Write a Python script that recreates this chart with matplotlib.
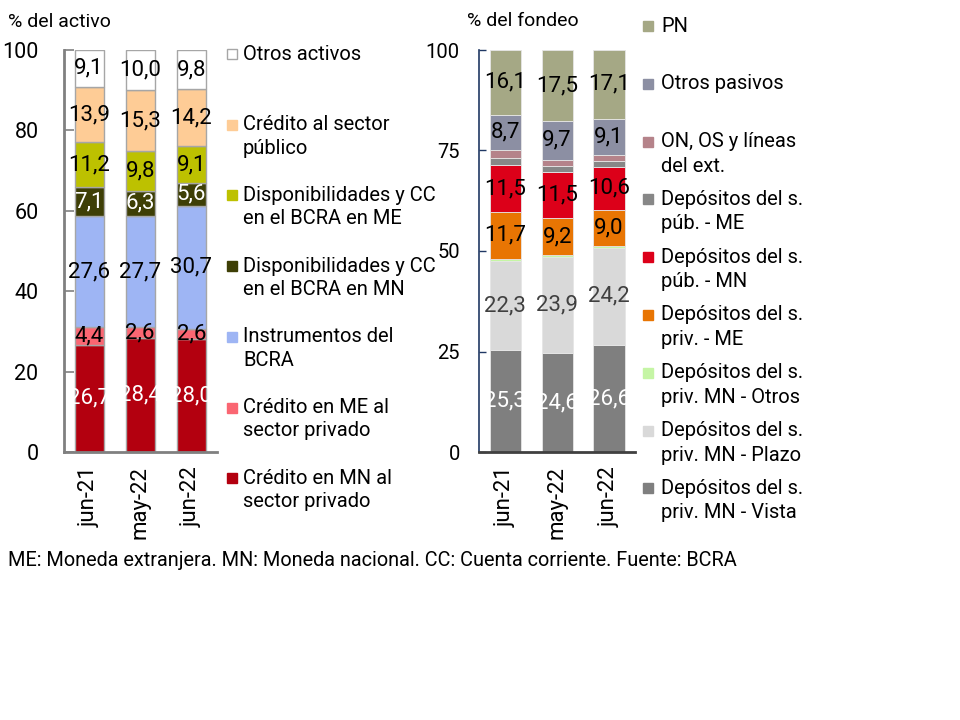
import matplotlib
matplotlib.use('Agg')
import matplotlib.pyplot as plt
from matplotlib.patches import Rectangle

plt.rcParams['font.family'] = ['Roboto', 'DejaVu Sans']

periods = ['jun-21', 'may-22', 'jun-22']

# ---- Activo (% del activo), bottom to top ----
credito_mn = [26.7, 28.4, 28.0]
credito_me = [4.4, 2.6, 2.6]
instrumentos_bcra = [27.6, 27.7, 30.7]
disp_mn = [7.1, 6.3, 5.6]
disp_me = [11.2, 9.8, 9.1]
credito_publico = [13.9, 15.3, 14.2]
otros_activos = [9.1, 10.0, 9.8]

# ---- Fondeo (% del fondeo), bottom to top ----
dep_priv_vista = [25.3, 24.6, 26.6]
dep_priv_plazo = [22.3, 23.9, 24.2]
dep_priv_otros = [0.5, 0.4, 0.5]
dep_priv_me = [11.7, 9.2, 9.0]
dep_pub_mn = [11.5, 11.5, 10.6]
dep_pub_me = [1.8, 1.6, 1.5]
on_os_lineas = [2.1, 1.5, 1.4]
otros_pasivos = [8.7, 9.7, 9.1]
pn = [16.1, 17.5, 17.1]

left_ticks = [0, 20, 40, 60, 80, 100]
right_ticks = [0, 25, 50, 75, 100]

# (values, legend label, face colour, label colour or None)
left_series = [
    (credito_mn, 'Crédito en MN al\nsector privado', '#B3000F', 'white'),
    (credito_me, 'Crédito en ME al\nsector privado', '#FA6672', 'black'),
    (instrumentos_bcra, 'Instrumentos del\nBCRA', '#9EB5F4', 'black'),
    (disp_mn, 'Disponibilidades y CC\nen el BCRA en MN', '#3E3F06', 'white'),
    (disp_me, 'Disponibilidades y CC\nen el BCRA en ME', '#BDC100', 'black'),
    (credito_publico, 'Crédito al sector\npúblico', '#FECC96', 'black'),
    (otros_activos, 'Otros activos', '#FFFFFF', 'black'),
]

right_series = [
    (dep_priv_vista, 'Depósitos del s.\npriv. MN - Vista', '#7F7F7F', 'white'),
    (dep_priv_plazo, 'Depósitos del s.\npriv. MN - Plazo', '#D9D9D9', '#404040'),
    (dep_priv_otros, 'Depósitos del s.\npriv. MN - Otros', '#C5F5A5', None),
    (dep_priv_me, 'Depósitos del s.\npriv. - ME', '#E87503', 'black'),
    (dep_pub_mn, 'Depósitos del s.\npúb. - MN', '#DC0019', 'black'),
    (dep_pub_me, 'Depósitos del s.\npúb. - ME', '#878787', None),
    (on_os_lineas, 'ON, OS y líneas\ndel ext.', '#B5838A', None),
    (otros_pasivos, 'Otros pasivos', '#8C8FA3', 'black'),
    (pn, 'PN', '#A5A885', 'black'),
]

W, H = 960, 720
fig = plt.figure(figsize=(W / 100, H / 100), dpi=100)


def fx(px):
    return px / W


def fy(py):
    return 1 - py / H


def fmt(v):
    return f'{v:.1f}'.replace('.', ',')


def draw_stack(ax, series, width, edge, lw, labsize):
    x = list(range(len(periods)))
    bottoms = [0.0] * len(periods)
    for vals, _, col, tcol in series:
        ax.bar(x, vals, width=width, bottom=bottoms, color=col,
               edgecolor=edge, linewidth=lw, zorder=2)
        if tcol is not None:
            for i, v in enumerate(vals):
                ax.text(x[i], bottoms[i] + v / 2, fmt(v), ha='center',
                        va='center', color=tcol, fontsize=labsize, zorder=3)
        bottoms = [b + v for b, v in zip(bottoms, vals)]
    ax.set_xlim(-0.5, 2.5)
    ax.set_ylim(0, 100)
    ax.set_xticks(x)
    ax.set_xticklabels(periods, rotation=90, fontsize=16)
    ax.tick_params(axis='x', length=0, pad=10)
    for s in ['top', 'right']:
        ax.spines[s].set_visible(False)


# ---- left chart ----
ax1 = fig.add_axes([fx(63.5), fy(452), fx(217) - fx(63.5), fy(50) - fy(452)])
draw_stack(ax1, left_series, 0.57, '#A6A6A6', 1.0, 16)
ax1.set_yticks(left_ticks)
ax1.set_yticklabels([str(t) for t in left_ticks], fontsize=15.5)
ax1.tick_params(axis='y', direction='in', length=7, width=1.2,
                color='#808080', pad=18)
for s in ['left', 'bottom']:
    ax1.spines[s].set_color('#808080')
    ax1.spines[s].set_linewidth(2)

# ---- right chart ----
ax2 = fig.add_axes([fx(479.3), fy(452), fx(635) - fx(479.3), fy(50) - fy(452)])
draw_stack(ax2, right_series, 0.6, '#E6E6E6', 0.6, 16)
ax2.set_yticks(right_ticks)
ax2.set_yticklabels([str(t) for t in right_ticks], fontsize=14.5)
ax2.tick_params(axis='y', direction='in', length=5, width=1,
                color='#203864', pad=14)
ax2.spines['left'].set_color('#203864')
ax2.spines['left'].set_linewidth(1.2)
ax2.spines['bottom'].set_color('#404040')
ax2.spines['bottom'].set_linewidth(2)

# ---- legends (entries top to bottom, marker on first line) ----


def draw_legend(series, x_mark, x_text, y0, dy, line_px, size):
    for k, (_, lab, col, _) in enumerate(reversed(series)):
        yl = y0 + k * dy
        edge = '#A6A6A6' if col.upper() == '#FFFFFF' else col
        fig.patches.append(Rectangle((fx(x_mark - 5), fy(yl + 5)),
                                     10 / W, 10 / H, facecolor=col,
                                     edgecolor=edge, linewidth=1,
                                     transform=fig.transFigure, figure=fig))
        for j, line in enumerate(lab.split('\n')):
            fig.text(fx(x_text), fy(yl + j * line_px), line, ha='left',
                     va='center', fontsize=size, color='black')


draw_legend(left_series, 232, 243, 54, 70.7, 23.5, 14.5)
draw_legend(right_series, 648, 661, 26, 57.8, 24.5, 14.5)

# ---- titles and note ----
fig.text(fx(8), fy(22), '% del activo', ha='left', va='center', fontsize=14)
fig.text(fx(467), fy(21), '% del fondeo', ha='left', va='center', fontsize=14)
fig.text(fx(8), fy(561),
         'ME: Moneda extranjera. MN: Moneda nacional. CC: Cuenta corriente. Fuente: BCRA',
         ha='left', va='center', fontsize=14.3)

fig.savefig('out.png', dpi=100)
